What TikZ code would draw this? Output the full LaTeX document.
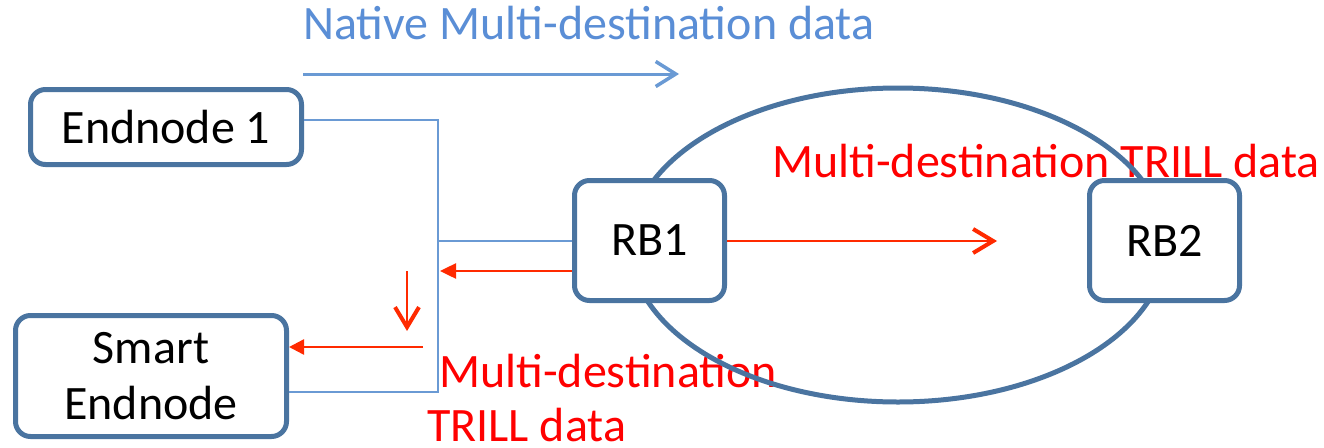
\documentclass[tikz,border=0pt]{standalone}
\usepackage{fontspec}
\setmainfont{Carlito}
\usetikzlibrary{arrows.meta,shapes.geometric}
\definecolor{boxblue}{HTML}{4A74A0}
\definecolor{lineblue}{HTML}{6A9AD4}
\definecolor{txtblue}{HTML}{5A8ED6}
\definecolor{arrred}{HTML}{FF2A00}
\begin{document}
\begin{tikzpicture}[x=1pt,y=-1pt,
  box/.style={draw=boxblue,line width=5pt,rounded corners=15pt,fill=white,
    font=\fontsize{48}{56}\selectfont,align=center,inner sep=0pt},
  conn/.style={draw=lineblue,line width=2pt},
  redarr/.style={draw=arrred,line width=2.5pt},
  lbl/.style={font=\fontsize{48}{56}\selectfont,inner sep=0pt,anchor=base west}]
\path[use as bounding box,fill=white] (0,0) rectangle (1324,447);
% texts
\node[lbl,text=txtblue] (t1) at (303,39) {Native Multi-destination data};
\node[lbl,text=red] (t2) at (772,177) {Multi-destination TRILL data};
\node[lbl,text=red] (t3) at (439,387) {Multi-destination};
\node[lbl,text=red] (t4) at (427,441) {TRILL data};
% ellipse
\node[draw=boxblue,line width=5pt,ellipse,minimum width=536pt,minimum height=314pt,inner sep=0pt] (cloud) at (898,245) {};
% boxes
\node[box,minimum width=271pt,minimum height=75pt] (E1) at (166,127) {Endnode 1};
\node[box,minimum width=271pt,minimum height=121pt] (SE) at (151,376) {Smart\\Endnode};
\node[box,minimum width=150pt,minimum height=120pt] (RB1) at (649.5,240.5) {RB1};
\node[box,minimum width=150pt,minimum height=120pt] (RB2) at (1164.5,240.5) {RB2};
% blue connectors
\coordinate (j1) at (438,120);
\coordinate (j2) at (438,240.5);
\coordinate (j3) at (438,392);
\draw[conn] (E1.east |- j1) -- (j1) -- (j3) -- (SE.east |- j3);
\draw[conn] (j2) -- (RB1.west);
% top blue arrow
\coordinate (b1) at (303,74);
\coordinate (b2) at (679,74);
\draw[draw=lineblue,line width=3pt,-{Straight Barb[length=20pt,width=25pt,line width=3.5pt]}] (b1) -- (b2);
% red arrows
\coordinate (r1) at (440,271);
\draw[redarr,-{Triangle[length=16pt,width=15pt]}] (RB1.west |- r1) -- (r1);
\coordinate (v1) at (407,271);
\coordinate (v2) at (407,331);
\draw[redarr,-{Straight Barb[length=20pt,width=24pt,line width=4pt]}] (v1) -- (v2);
\coordinate (s1) at (423,347);
\draw[redarr,-{Triangle[length=15pt,width=15pt]}] (s1) -- (SE.east |- s1);
\coordinate (q1) at (997,241);
\draw[redarr,-{Straight Barb[length=20pt,width=24pt,line width=4pt]}] (RB1.east |- q1) -- (q1);
\end{tikzpicture}
\end{document}
